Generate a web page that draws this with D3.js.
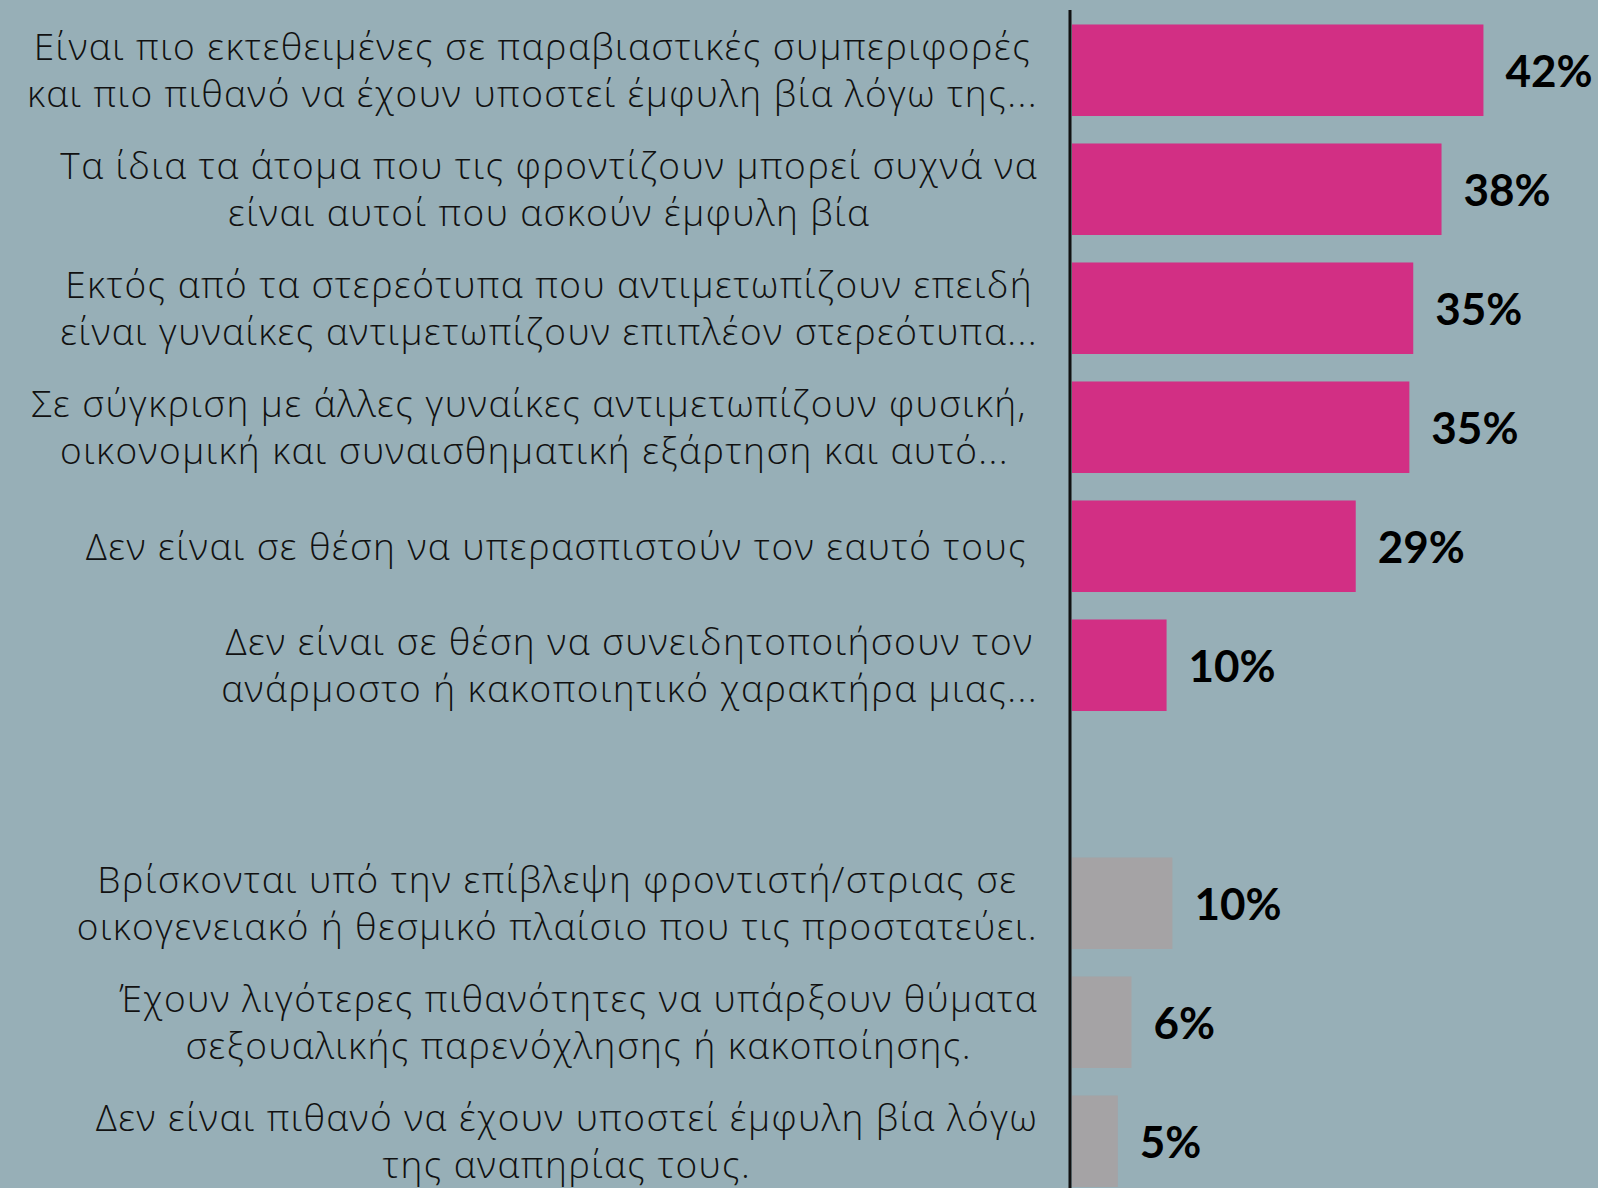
<!DOCTYPE html>
<html>
<head>
<meta charset="utf-8">
<script src="https://cdn.jsdelivr.net/npm/d3@7"></script>
<style>
  html, body { margin: 0; padding: 0; background: #97afb7; }
  svg { display: block; }
  .cat { font-family: "Open Sans", "Noto Sans", sans-serif; font-weight: 300; white-space: pre; letter-spacing: 1.45px; }
  .val { font-family: Lato, "Noto Sans", sans-serif; font-weight: 700; }
</style>
</head>
<body>
<svg id="chart"></svg>
<script>
// labels, one entry per bar (lines as split in the original)
const categories = [
  ["Είναι πιο εκτεθειμένες σε παραβιαστικές συμπεριφορές", "και πιο πιθανό να έχουν υποστεί έμφυλη βία λόγω της..."],
  ["Τα ίδια τα άτομα που τις φροντίζουν μπορεί συχνά να", "είναι αυτοί που ασκούν έμφυλη βία"],
  ["Εκτός από τα στερεότυπα που αντιμετωπίζουν επειδή", "είναι γυναίκες αντιμετωπίζουν επιπλέον στερεότυπα..."],
  ["Σε σύγκριση με άλλες γυναίκες αντιμετωπίζουν φυσική, ", "οικονομική και συναισθηματική εξάρτηση και αυτό..."],
  ["Δεν είναι σε θέση να υπερασπιστούν τον εαυτό τους "],
  ["Δεν είναι σε θέση να συνειδητοποιήσουν τον", "ανάρμοστο ή κακοποιητικό χαρακτήρα μιας..."],
  ["Βρίσκονται υπό την επίβλεψη φροντιστή/στριας σε", "οικογενειακό ή θεσμικό πλαίσιο που τις προστατεύει."],
  ["Έχουν λιγότερες πιθανότητες να υπάρξουν θύματα", "σεξουαλικής παρενόχλησης ή κακοποίησης."],
  ["Δεν είναι πιθανό να έχουν υποστεί έμφυλη βία λόγω", "της αναπηρίας τους."]
];
const values = [42.2, 37.9, 35.0, 34.6, 29.1, 9.7, 10.3, 6.1, 4.7];
const groups = ["agree", "agree", "agree", "agree", "agree", "agree", "disagree", "disagree", "disagree"];
const groupColors = { agree: "#d22f84", disagree: "#a5a3a5" };

const width = 1598, height = 1188;
const axisX = 1070, textRight = 1038, lineHeight = 47;

const rows = values.map((v, i) => ({ key: "r" + i, lines: categories[i], value: v, group: groups[i] }));
// empty slot between the two groups
const domain = rows.slice(0, 6).map(d => d.key).concat(["gap"], rows.slice(6).map(d => d.key));

const svg = d3.select("#chart").attr("width", width).attr("height", height);
svg.append("rect").attr("width", width).attr("height", height).attr("fill", "#97afb7");

const y = d3.scaleBand().domain(domain).range([10.75, 1200.75]).paddingInner(0.231).paddingOuter(0.1155);
const x = d3.scaleLinear().domain([0, 50]).range([axisX + 2, axisX + 2 + 487.5]);
const fmt = v => d3.format(".0f")(v) + "%";

svg.append("g").selectAll("rect")
  .data(rows).join("rect")
  .attr("x", x(0))
  .attr("y", d => y(d.key))
  .attr("width", d => x(d.value) - x(0))
  .attr("height", y.bandwidth())
  .attr("fill", d => groupColors[d.group]);

svg.append("g").selectAll("text")
  .data(rows).join("text")
  .attr("class", "val")
  .attr("x", d => x(d.value) + 22)
  .attr("y", d => y(d.key) + y.bandwidth() / 2)
  .attr("dominant-baseline", "central")
  .attr("font-size", 44)
  .attr("fill", "#000")
  .text(d => fmt(d.value));

// category blocks: lines centred inside a block that is right-aligned to textRight
const cat = svg.append("g").selectAll("g")
  .data(rows).join("g");

cat.each(function(d) {
  const g = d3.select(this);
  const cy = y(d.key) + y.bandwidth() / 2;
  const n = d.lines.length;
  const texts = g.selectAll("text").data(d.lines).join("text")
    .attr("class", "cat")
    .attr("font-size", 37)
    .attr("fill", "#111")
    .attr("dominant-baseline", "central")
    .attr("text-anchor", "middle")
    .attr("y", (l, i) => cy + (i - (n - 1) / 2) * lineHeight - 1)
    .text(l => l);
  const maxW = d3.max(texts.nodes(), t => t.getComputedTextLength());
  texts.attr("x", textRight - maxW / 2);
});

svg.append("line")
  .attr("x1", axisX).attr("x2", axisX)
  .attr("y1", 10).attr("y2", height)
  .attr("stroke", "#111").attr("stroke-width", 3);
</script>
</body>
</html>
